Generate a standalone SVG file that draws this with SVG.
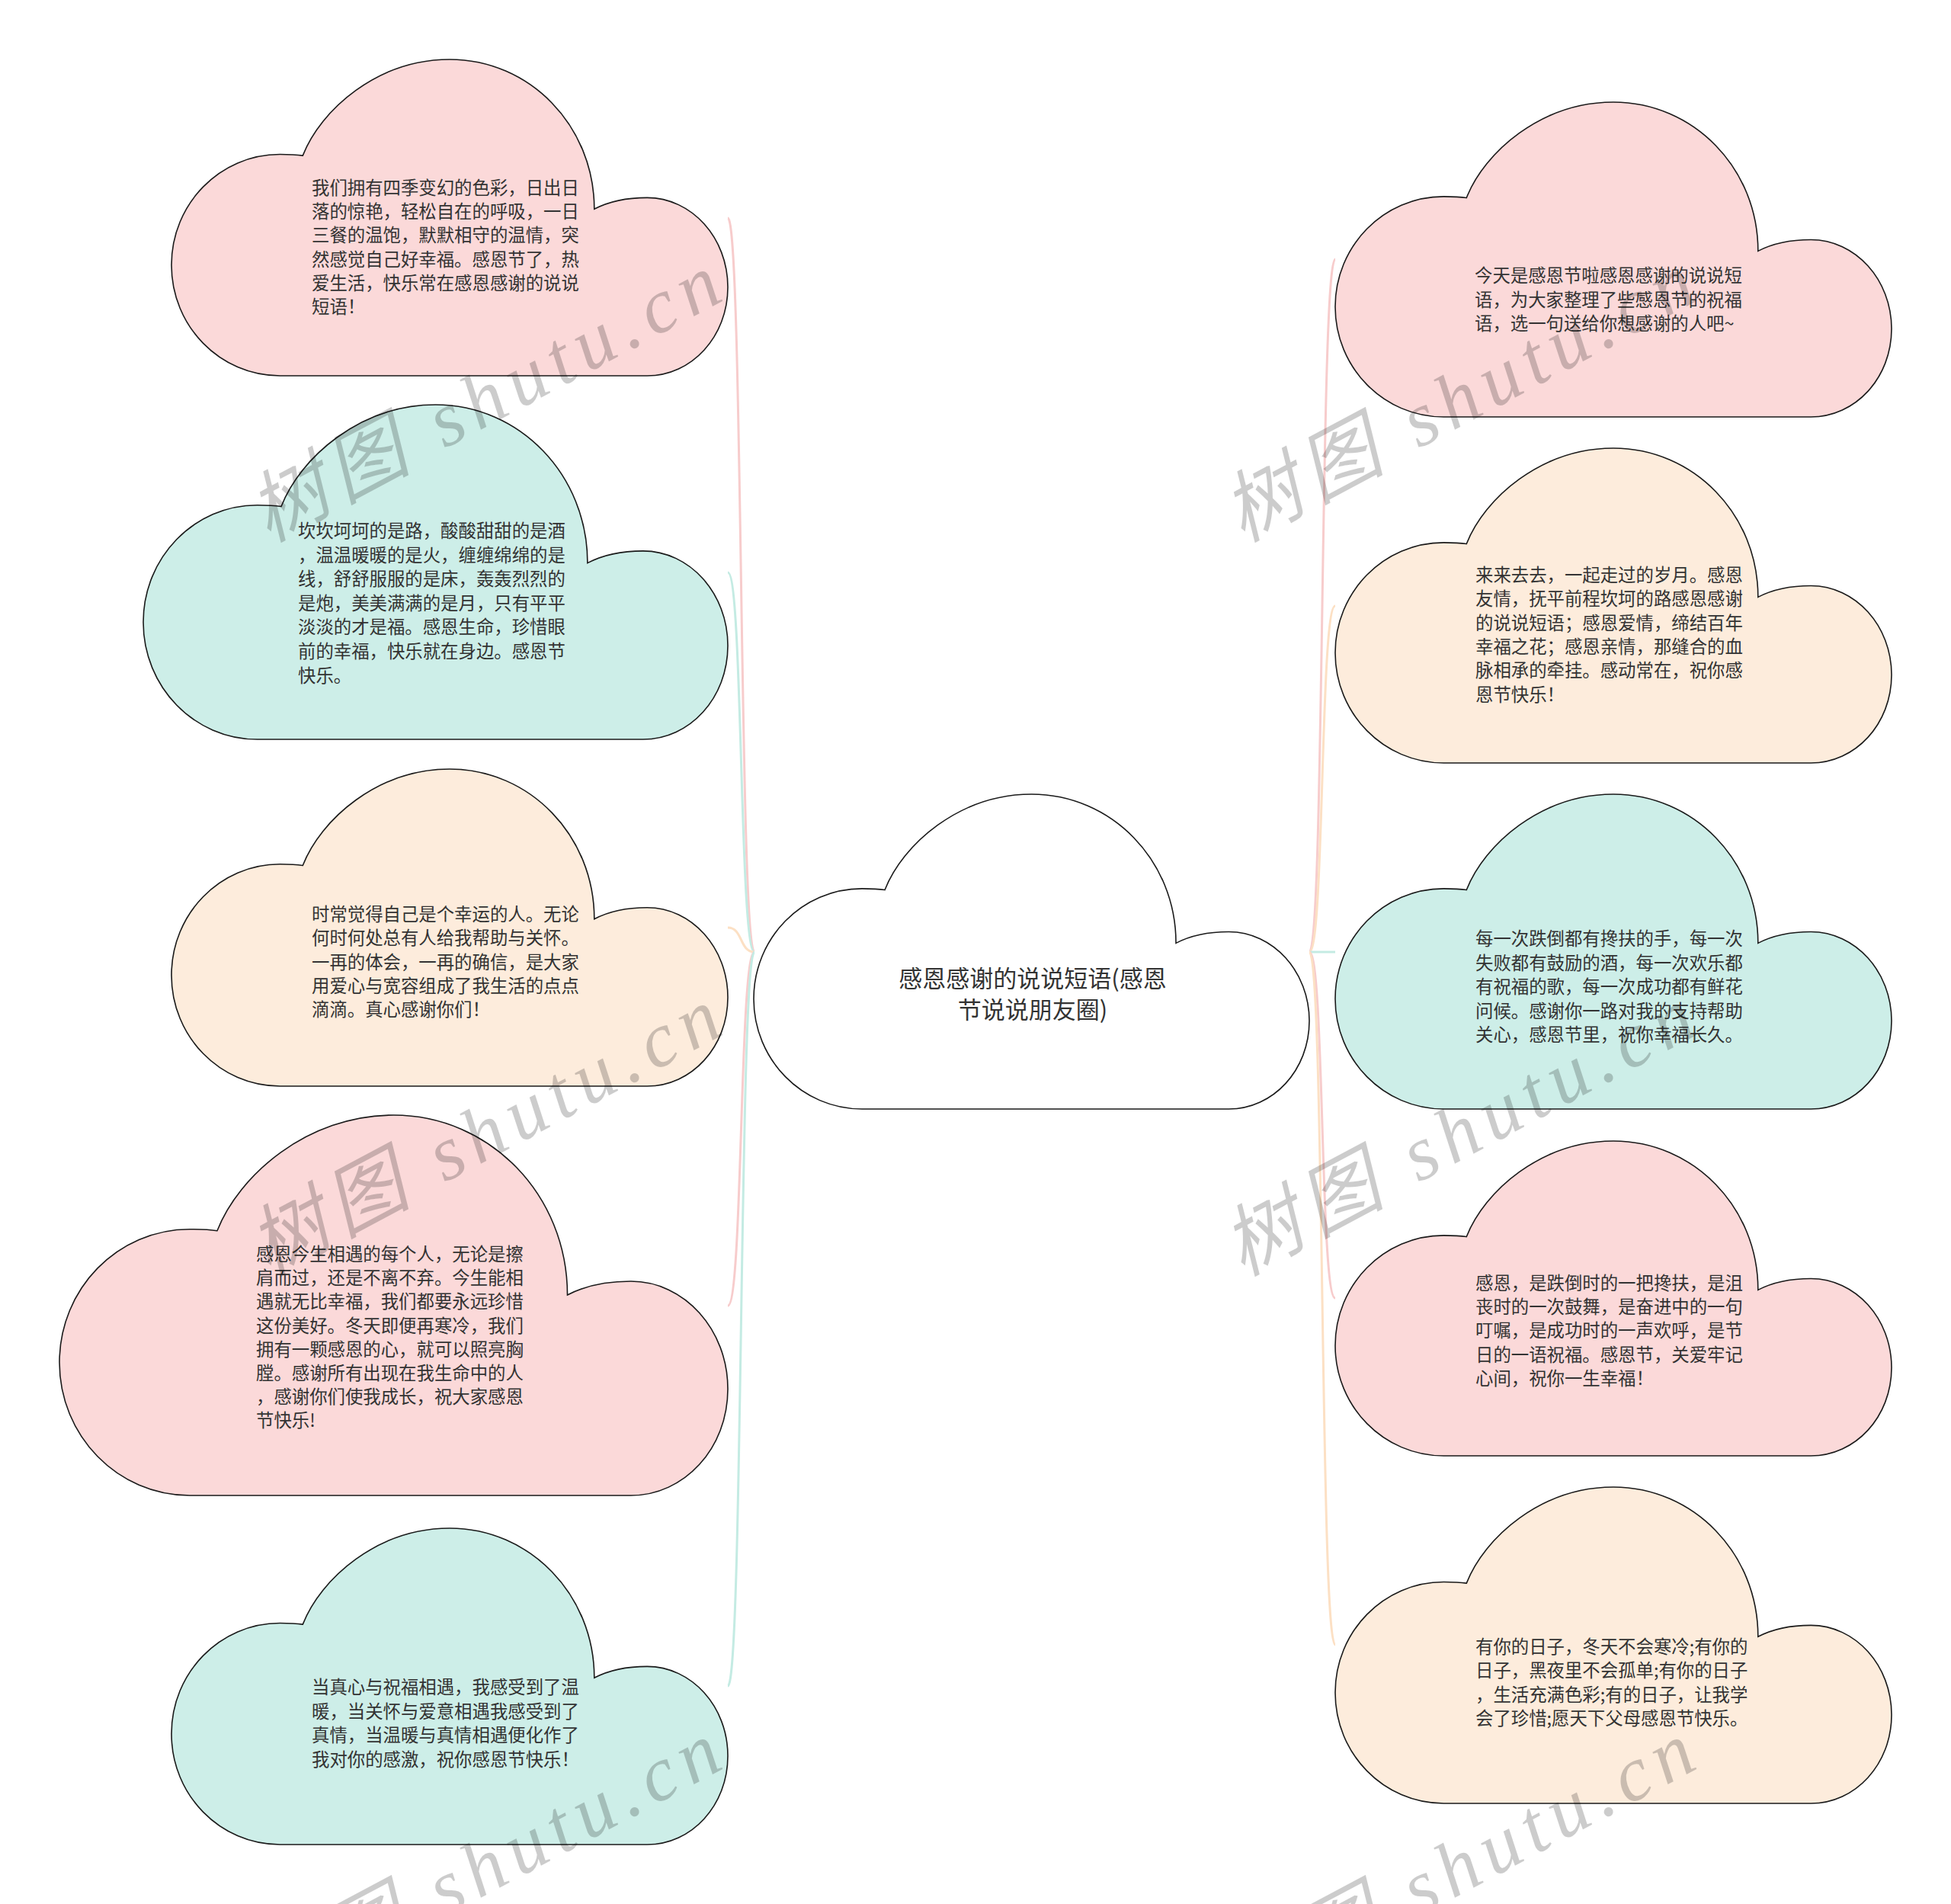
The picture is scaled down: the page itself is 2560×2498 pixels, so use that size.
<svg xmlns="http://www.w3.org/2000/svg" xmlns:xlink="http://www.w3.org/1999/xlink" width="2560" height="2498" viewBox="0 0 2560 2498">
<defs>
<path id="cloud" vector-effect="non-scaling-stroke" d="M236,304 C268,160 370,0 500,0 C644,0 760,210 760,473 C785,450 815,437 855,437 C935,437 1000,564 1000,720 C1000,876 935,1000 855,1000 L195,1000 C87,1000 0,843 0,650 C0,457 87,300 195,300 C210,300 225,301 236,304 Z"/>
<style>
.shape{stroke:#1a1a1a;stroke-width:1.6}
.pink{fill:#fbd9d9}
.teal{fill:#cdeee8}
.peach{fill:#fdecdc}
.white{fill:#ffffff}
.lp{fill:none;stroke:#f7cccc;stroke-width:3}
.lt{fill:none;stroke:#c4ebe3;stroke-width:3}
.lc{fill:none;stroke:#fce0c4;stroke-width:3}
.t{font-family:"Noto Sans CJK SC","Noto Sans",sans-serif;font-size:23.4px;fill:#333333}
.tc{font-family:"Noto Sans CJK SC","Noto Sans",sans-serif;font-size:31px;fill:#333333;text-anchor:middle}
.wm{font-family:"Liberation Serif","Noto Sans CJK SC",serif;font-size:102px;fill:#000000;fill-opacity:0.2;font-style:italic}
</style>
</defs>
<rect width="2560" height="2498" fill="#ffffff"/>
<g id="connectors">
<path class="lp" d="M990,1249 C970,1249 975,286 955,286"/>
<path class="lt" d="M990,1249 C970,1249 975,751 955,751"/>
<path class="lc" d="M990,1249 C970,1249 975,1217 955,1217"/>
<path class="lp" d="M990,1249 C970,1249 975,1713 955,1713"/>
<path class="lt" d="M990,1249 C970,1249 975,2212 955,2212"/>
<path class="lp" d="M1718,1249 C1738,1249 1732,340 1752,340"/>
<path class="lc" d="M1718,1249 C1738,1249 1732,795 1752,795"/>
<path class="lt" d="M1718,1249 L1752,1249"/>
<path class="lp" d="M1718,1249 C1738,1249 1732,1703 1752,1703"/>
<path class="lc" d="M1718,1249 C1738,1249 1732,2158 1752,2158"/>
</g>
<g id="center">
<use xlink:href="#cloud" class="shape white" transform="translate(989,1042) scale(0.729,0.413)"/>
<text class="tc" x="1355" y="1295">感恩感谢的说说短语(感恩</text>
<text class="tc" x="1355" y="1336">节说说朋友圈)</text>
</g>
<g id="node-l1">
<use xlink:href="#cloud" class="shape pink" transform="translate(225,78) scale(0.730,0.415)"/>
<text class="t" x="409" y="255"><tspan x="409">我们拥有四季变幻的色彩，日出日</tspan><tspan x="409" dy="31.2">落的惊艳，轻松自在的呼吸，一日</tspan><tspan x="409" dy="31.2">三餐的温饱，默默相守的温情，突</tspan><tspan x="409" dy="31.2">然感觉自己好幸福。感恩节了，热</tspan><tspan x="409" dy="31.2">爱生活，快乐常在感恩感谢的说说</tspan><tspan x="409" dy="31.2">短语！</tspan></text>
</g>
<g id="node-l2">
<use xlink:href="#cloud" class="shape teal" transform="translate(188,531) scale(0.767,0.439)"/>
<text class="t" x="391" y="705"><tspan x="391">坎坎坷坷的是路，酸酸甜甜的是酒</tspan><tspan x="391" dy="31.6">，温温暖暖的是火，缠缠绵绵的是</tspan><tspan x="391" dy="31.6">线，舒舒服服的是床，轰轰烈烈的</tspan><tspan x="391" dy="31.6">是炮，美美满满的是月，只有平平</tspan><tspan x="391" dy="31.6">淡淡的才是福。感恩生命，珍惜眼</tspan><tspan x="391" dy="31.6">前的幸福，快乐就在身边。感恩节</tspan><tspan x="391" dy="31.6">快乐。</tspan></text>
</g>
<g id="node-l3">
<use xlink:href="#cloud" class="shape peach" transform="translate(225,1009) scale(0.730,0.416)"/>
<text class="t" x="409" y="1208"><tspan x="409">时常觉得自己是个幸运的人。无论</tspan><tspan x="409" dy="31.3">何时何处总有人给我帮助与关怀。</tspan><tspan x="409" dy="31.3">一再的体会，一再的确信，是大家</tspan><tspan x="409" dy="31.3">用爱心与宽容组成了我生活的点点</tspan><tspan x="409" dy="31.3">滴滴。真心感谢你们！</tspan></text>
</g>
<g id="node-l4">
<use xlink:href="#cloud" class="shape pink" transform="translate(78,1463) scale(0.877,0.499)"/>
<text class="t" x="336" y="1654"><tspan x="336">感恩今生相遇的每个人，无论是擦</tspan><tspan x="336" dy="31.2">肩而过，还是不离不弃。今生能相</tspan><tspan x="336" dy="31.2">遇就无比幸福，我们都要永远珍惜</tspan><tspan x="336" dy="31.2">这份美好。冬天即便再寒冷，我们</tspan><tspan x="336" dy="31.2">拥有一颗感恩的心，就可以照亮胸</tspan><tspan x="336" dy="31.2">膛。感谢所有出现在我生命中的人</tspan><tspan x="336" dy="31.2">，感谢你们使我成长，祝大家感恩</tspan><tspan x="336" dy="31.2">节快乐!</tspan></text>
</g>
<g id="node-l5">
<use xlink:href="#cloud" class="shape teal" transform="translate(225,2005) scale(0.730,0.415)"/>
<text class="t" x="409" y="2222"><tspan x="409">当真心与祝福相遇，我感受到了温</tspan><tspan x="409" dy="31.6">暖，当关怀与爱意相遇我感受到了</tspan><tspan x="409" dy="31.6">真情，当温暖与真情相遇便化作了</tspan><tspan x="409" dy="31.6">我对你的感激，祝你感恩节快乐！</tspan></text>
</g>
<g id="node-r1">
<use xlink:href="#cloud" class="shape pink" transform="translate(1752,134) scale(0.730,0.413)"/>
<text class="t" x="1935" y="370"><tspan x="1935">今天是感恩节啦感恩感谢的说说短</tspan><tspan x="1935" dy="31.5">语，为大家整理了些感恩节的祝福</tspan><tspan x="1935" dy="31.5">语，选一句送给你想感谢的人吧~</tspan></text>
</g>
<g id="node-r2">
<use xlink:href="#cloud" class="shape peach" transform="translate(1752,588) scale(0.730,0.413)"/>
<text class="t" x="1936" y="763"><tspan x="1936">来来去去，一起走过的岁月。感恩</tspan><tspan x="1936" dy="31.3">友情，抚平前程坎坷的路感恩感谢</tspan><tspan x="1936" dy="31.3">的说说短语；感恩爱情，缔结百年</tspan><tspan x="1936" dy="31.3">幸福之花；感恩亲情，那缝合的血</tspan><tspan x="1936" dy="31.3">脉相承的牵挂。感动常在，祝你感</tspan><tspan x="1936" dy="31.3">恩节快乐！</tspan></text>
</g>
<g id="node-r3">
<use xlink:href="#cloud" class="shape teal" transform="translate(1752,1042) scale(0.730,0.413)"/>
<text class="t" x="1936" y="1240"><tspan x="1936">每一次跌倒都有搀扶的手，每一次</tspan><tspan x="1936" dy="31.6">失败都有鼓励的酒，每一次欢乐都</tspan><tspan x="1936" dy="31.6">有祝福的歌，每一次成功都有鲜花</tspan><tspan x="1936" dy="31.6">问候。感谢你一路对我的支持帮助</tspan><tspan x="1936" dy="31.6">关心，感恩节里，祝你幸福长久。</tspan></text>
</g>
<g id="node-r4">
<use xlink:href="#cloud" class="shape pink" transform="translate(1752,1497) scale(0.730,0.413)"/>
<text class="t" x="1936" y="1692"><tspan x="1936">感恩，是跌倒时的一把搀扶，是沮</tspan><tspan x="1936" dy="31.2">丧时的一次鼓舞，是奋进中的一句</tspan><tspan x="1936" dy="31.2">叮嘱，是成功时的一声欢呼，是节</tspan><tspan x="1936" dy="31.2">日的一语祝福。感恩节，关爱牢记</tspan><tspan x="1936" dy="31.2">心间，祝你一生幸福！</tspan></text>
</g>
<g id="node-r5">
<use xlink:href="#cloud" class="shape peach" transform="translate(1752,1951) scale(0.730,0.415)"/>
<text class="t" x="1936" y="2169"><tspan x="1936">有你的日子，冬天不会寒冷;有你的</tspan><tspan x="1936" dy="31.3">日子，黑夜里不会孤单;有你的日子</tspan><tspan x="1936" dy="31.3">，生活充满色彩;有的日子，让我学</tspan><tspan x="1936" dy="31.3">会了珍惜;愿天下父母感恩节快乐。</tspan></text>
</g>
<g id="watermarks">
<text class="wm" transform="translate(352,712) rotate(-28)" textLength="680" lengthAdjust="spacing">树图 shutu.cn</text>
<text class="wm" transform="translate(352,1675) rotate(-28)" textLength="680" lengthAdjust="spacing">树图 shutu.cn</text>
<text class="wm" transform="translate(352,2638) rotate(-28)" textLength="680" lengthAdjust="spacing">树图 shutu.cn</text>
<text class="wm" transform="translate(1630,712) rotate(-28)" textLength="680" lengthAdjust="spacing">树图 shutu.cn</text>
<text class="wm" transform="translate(1630,1675) rotate(-28)" textLength="680" lengthAdjust="spacing">树图 shutu.cn</text>
<text class="wm" transform="translate(1630,2638) rotate(-28)" textLength="680" lengthAdjust="spacing">树图 shutu.cn</text>
</g>
</svg>
